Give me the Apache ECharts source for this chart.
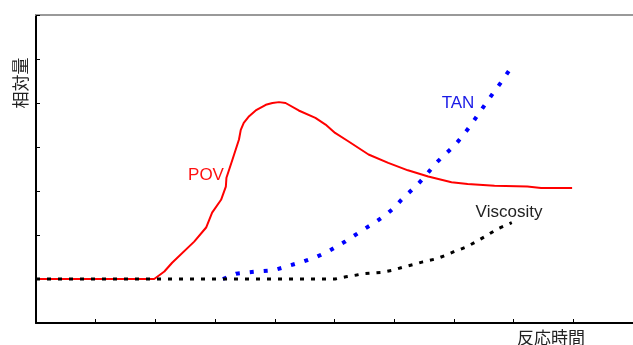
<!DOCTYPE html>
<html>
<head>
<meta charset="utf-8">
<script src="https://cdn.jsdelivr.net/npm/echarts@6/dist/echarts.min.js"></script>
<style>
  html, body { margin: 0; padding: 0; background: #fff; }
  #chart { width: 633px; height: 345px; }
</style>
</head>
<body>
<div id="chart"></div>
<script>
// Relative amounts over reaction time (x in time units, y in relative units; 0 = baseline)
const povPoints = [
  [0, 0], [1.98, 0], [2.15, 0.17], [2.28, 0.37], [2.65, 0.85], [2.85, 1.17],
  [2.95, 1.51], [3.1, 1.8], [3.18, 2.1], [3.19, 2.3], [3.29, 2.71], [3.4, 3.17],
  [3.43, 3.39], [3.48, 3.55], [3.57, 3.7], [3.68, 3.83], [3.85, 3.96], [3.96, 4.0],
  [4.07, 4.02], [4.18, 4.0], [4.4, 3.83], [4.68, 3.66], [4.85, 3.51], [5.01, 3.32],
  [5.23, 3.13], [5.57, 2.83], [5.9, 2.64], [6.23, 2.47], [6.57, 2.33], [6.96, 2.2],
  [7.23, 2.16], [7.68, 2.12], [8.23, 2.1], [8.46, 2.07], [8.98, 2.07]
];
const tanPoints = [
  [3.13, 0], [3.35, 0.12], [3.7, 0.17], [3.98, 0.2], [4.21, 0.29], [4.46, 0.39],
  [4.71, 0.51], [4.9, 0.63], [5.18, 0.85], [5.48, 1.12], [5.65, 1.26], [5.87, 1.47],
  [6.0, 1.62], [6.12, 1.8], [6.4, 2.16], [6.54, 2.37], [6.69, 2.62], [6.85, 2.83],
  [7.01, 3.03], [7.15, 3.26], [7.28, 3.49], [7.4, 3.73], [7.54, 4.0], [7.66, 4.23],
  [7.79, 4.47], [7.93, 4.75]
];
const viscosityPoints = [
  [0, 0], [5.01, 0], [5.19, 0.05], [5.37, 0.09], [5.48, 0.12], [5.79, 0.15],
  [5.98, 0.2], [6.15, 0.27], [6.32, 0.33], [6.48, 0.39], [6.71, 0.46], [6.9, 0.56],
  [7.0, 0.62], [7.21, 0.73], [7.36, 0.84], [7.54, 0.98], [7.73, 1.14], [7.97, 1.28]
];
const seriesNames = ['POV', 'TAN', 'Viscosity'];
const xAxisTitle = '反応時間';
const yAxisTitle = '相対量';

const chart = echarts.init(document.getElementById('chart'));
const latin = '"Liberation Sans", Arial, sans-serif';
const cjk = '"Noto Sans CJK JP", "Noto Sans CJK SC", sans-serif';

chart.setOption({
  animation: false,
  backgroundColor: '#fff',
  grid: { left: 36, top: 15, width: 600, height: 308 },
  xAxis: [{
    type: 'value', min: 0, max: 10, interval: 1,
    axisLine: { onZero: false, lineStyle: { color: '#000', width: 2 } },
    axisTick: { inside: true, length: 4, lineStyle: { color: '#000', width: 1 } },
    axisLabel: { show: false },
    splitLine: { show: false }
  }, {
    type: 'value', min: 0, max: 10, position: 'top',
    axisLine: { show: true, onZero: false, lineStyle: { color: '#999', width: 2 } },
    axisTick: { show: false },
    axisLabel: { show: false },
    splitLine: { show: false }
  }],
  yAxis: {
    type: 'value', min: -1, max: 6, interval: 1,
    axisLine: { show: true, onZero: false, lineStyle: { color: '#000', width: 2 } },
    axisTick: { show: true, inside: true, length: 4, lineStyle: { color: '#000', width: 1 } },
    axisLabel: { show: false },
    splitLine: { show: false }
  },
  series: [{
    name: seriesNames[0], type: 'line', data: povPoints, showSymbol: false,
    lineStyle: { color: '#ff0000', width: 2 }
  }, {
    name: seriesNames[1], type: 'line', data: tanPoints, showSymbol: false,
    lineStyle: { color: '#0000ff', width: 4, type: [4, 10] }
  }, {
    name: seriesNames[2], type: 'line', data: viscosityPoints, showSymbol: false,
    lineStyle: { color: '#000', width: 3, type: [4, 7] }
  }],
  graphic: [
    { type: 'text', x: 206, y: 175, style: { text: seriesNames[0], fill: '#ff1010', font: '17px ' + latin, textAlign: 'center', textVerticalAlign: 'middle' } },
    { type: 'text', x: 458, y: 103, style: { text: seriesNames[1], fill: '#1a1ae6', font: '17px ' + latin, textAlign: 'center', textVerticalAlign: 'middle' } },
    { type: 'text', x: 509, y: 212, style: { text: seriesNames[2], fill: '#222', font: '17px ' + latin, textAlign: 'center', textVerticalAlign: 'middle' } },
    { type: 'text', x: 551, y: 338, style: { text: xAxisTitle, fill: '#222', font: '17px ' + cjk, textAlign: 'center', textVerticalAlign: 'middle' } },
    { type: 'text', x: 21, y: 83, rotation: Math.PI / 2, style: { text: yAxisTitle, fill: '#222', font: '17px ' + cjk, textAlign: 'center', textVerticalAlign: 'middle' } }
  ]
});
</script>
</body>
</html>
